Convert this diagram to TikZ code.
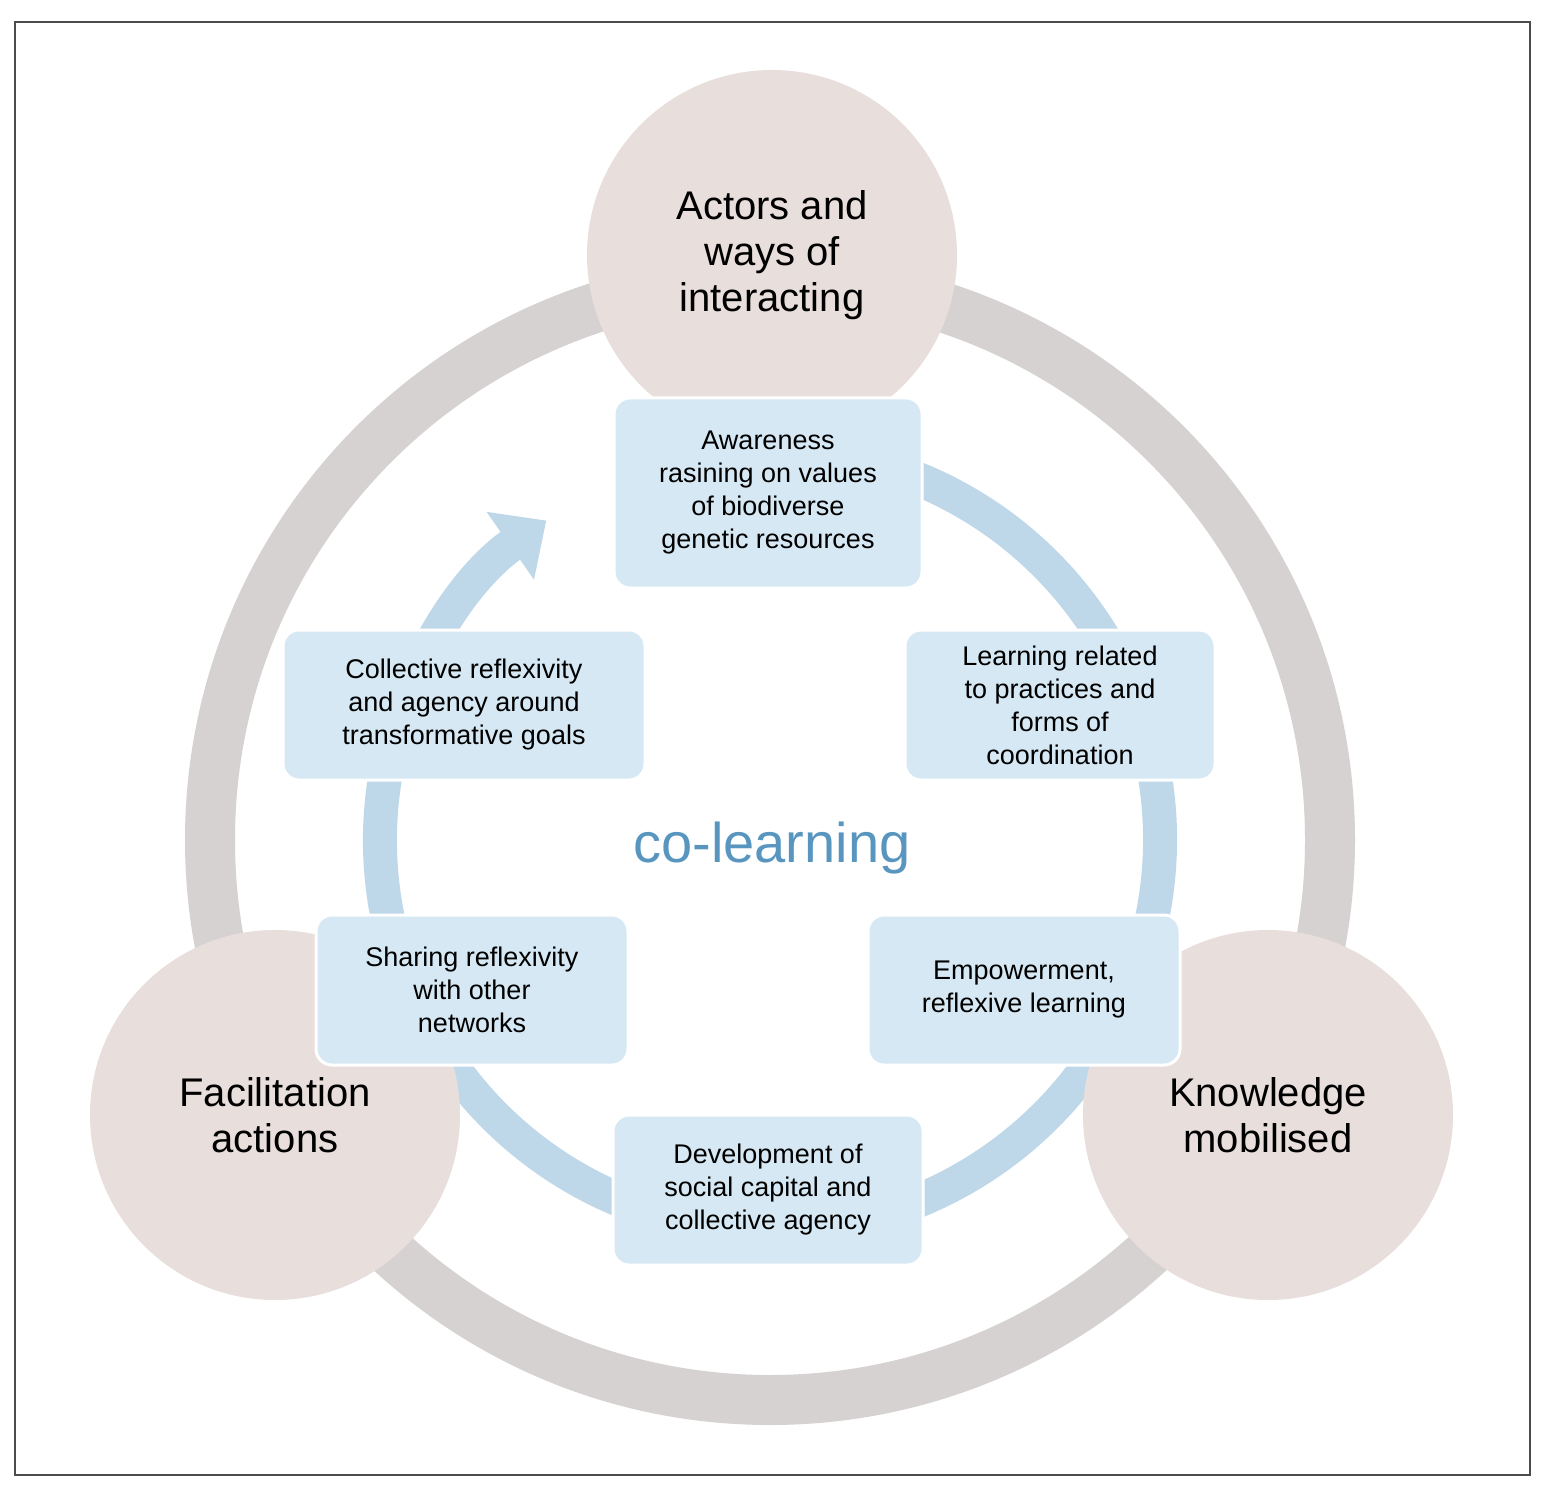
\documentclass[tikz,border=0pt]{standalone}
\usepackage{fontspec}
\setmainfont{Liberation Sans}
\usetikzlibrary{arrows.meta}
\definecolor{ringgray}{RGB}{214,210,209}
\definecolor{pink}{RGB}{232,222,220}
\definecolor{ringblue}{RGB}{190,216,233}
\definecolor{boxblue}{RGB}{214,232,243}
\definecolor{colearn}{RGB}{88,150,192}
\begin{document}
\begin{tikzpicture}[x=0.5pt,y=-0.5pt,
  big/.style={circle,fill=pink,minimum size=185pt,inner sep=0pt,align=center,font=\fontsize{20}{23}\selectfont},
  box/.style={rounded corners=8pt,fill=boxblue,draw=white,line width=1.5pt,align=center,inner sep=0pt,font=\fontsize{13.5}{16.5}\selectfont}]
\useasboundingbox (0,0) rectangle (1546,1502);
\fill[white] (0,0) rectangle (1546,1502);
\draw[line width=1.2pt,black!70] (15,22) rectangle (1530,1475);
\coordinate (c) at (770,840);
\draw[ringgray,line width=25pt] (c) circle[radius=280pt];
\draw[ringblue,line width=17pt,-{Triangle[length=22pt,width=40pt]}] (c) ++(80:195pt) arc[start angle=80,end angle=-235,radius=195pt];
\node[big] (top) at (772,255) {Actors and\\ways of\\interacting};
\node[big] (fa) at (275,1115) {Facilitation\\actions};
\node[big] (km) at (1268,1115) {Knowledge\\mobilised};
\node[box,minimum width=154pt,minimum height=95pt] (b1) at (768,493) {Awareness\\rasining on values\\of biodiverse\\genetic resources};
\node[box,minimum width=155pt,minimum height=75pt] (b2) at (1060,705) {Learning related\\to practices and\\forms of\\coordination};
\node[box,minimum width=181pt,minimum height=75pt] (b3) at (464,705) {Collective reflexivity\\and agency around\\transformative goals};
\node[box,minimum width=156pt,minimum height=75pt] (b4) at (1024,990) {Empowerment,\\reflexive learning};
\node[box,minimum width=156pt,minimum height=75pt] (b5) at (472,990) {Sharing reflexivity\\with other\\networks};
\node[box,minimum width=155pt,minimum height=75pt] (b6) at (768,1190) {Development of\\social capital and\\collective agency};
\node[text=colearn,font=\fontsize{28}{30}\selectfont] (cl) at (772,848) {co-learning};
\end{tikzpicture}
\end{document}
